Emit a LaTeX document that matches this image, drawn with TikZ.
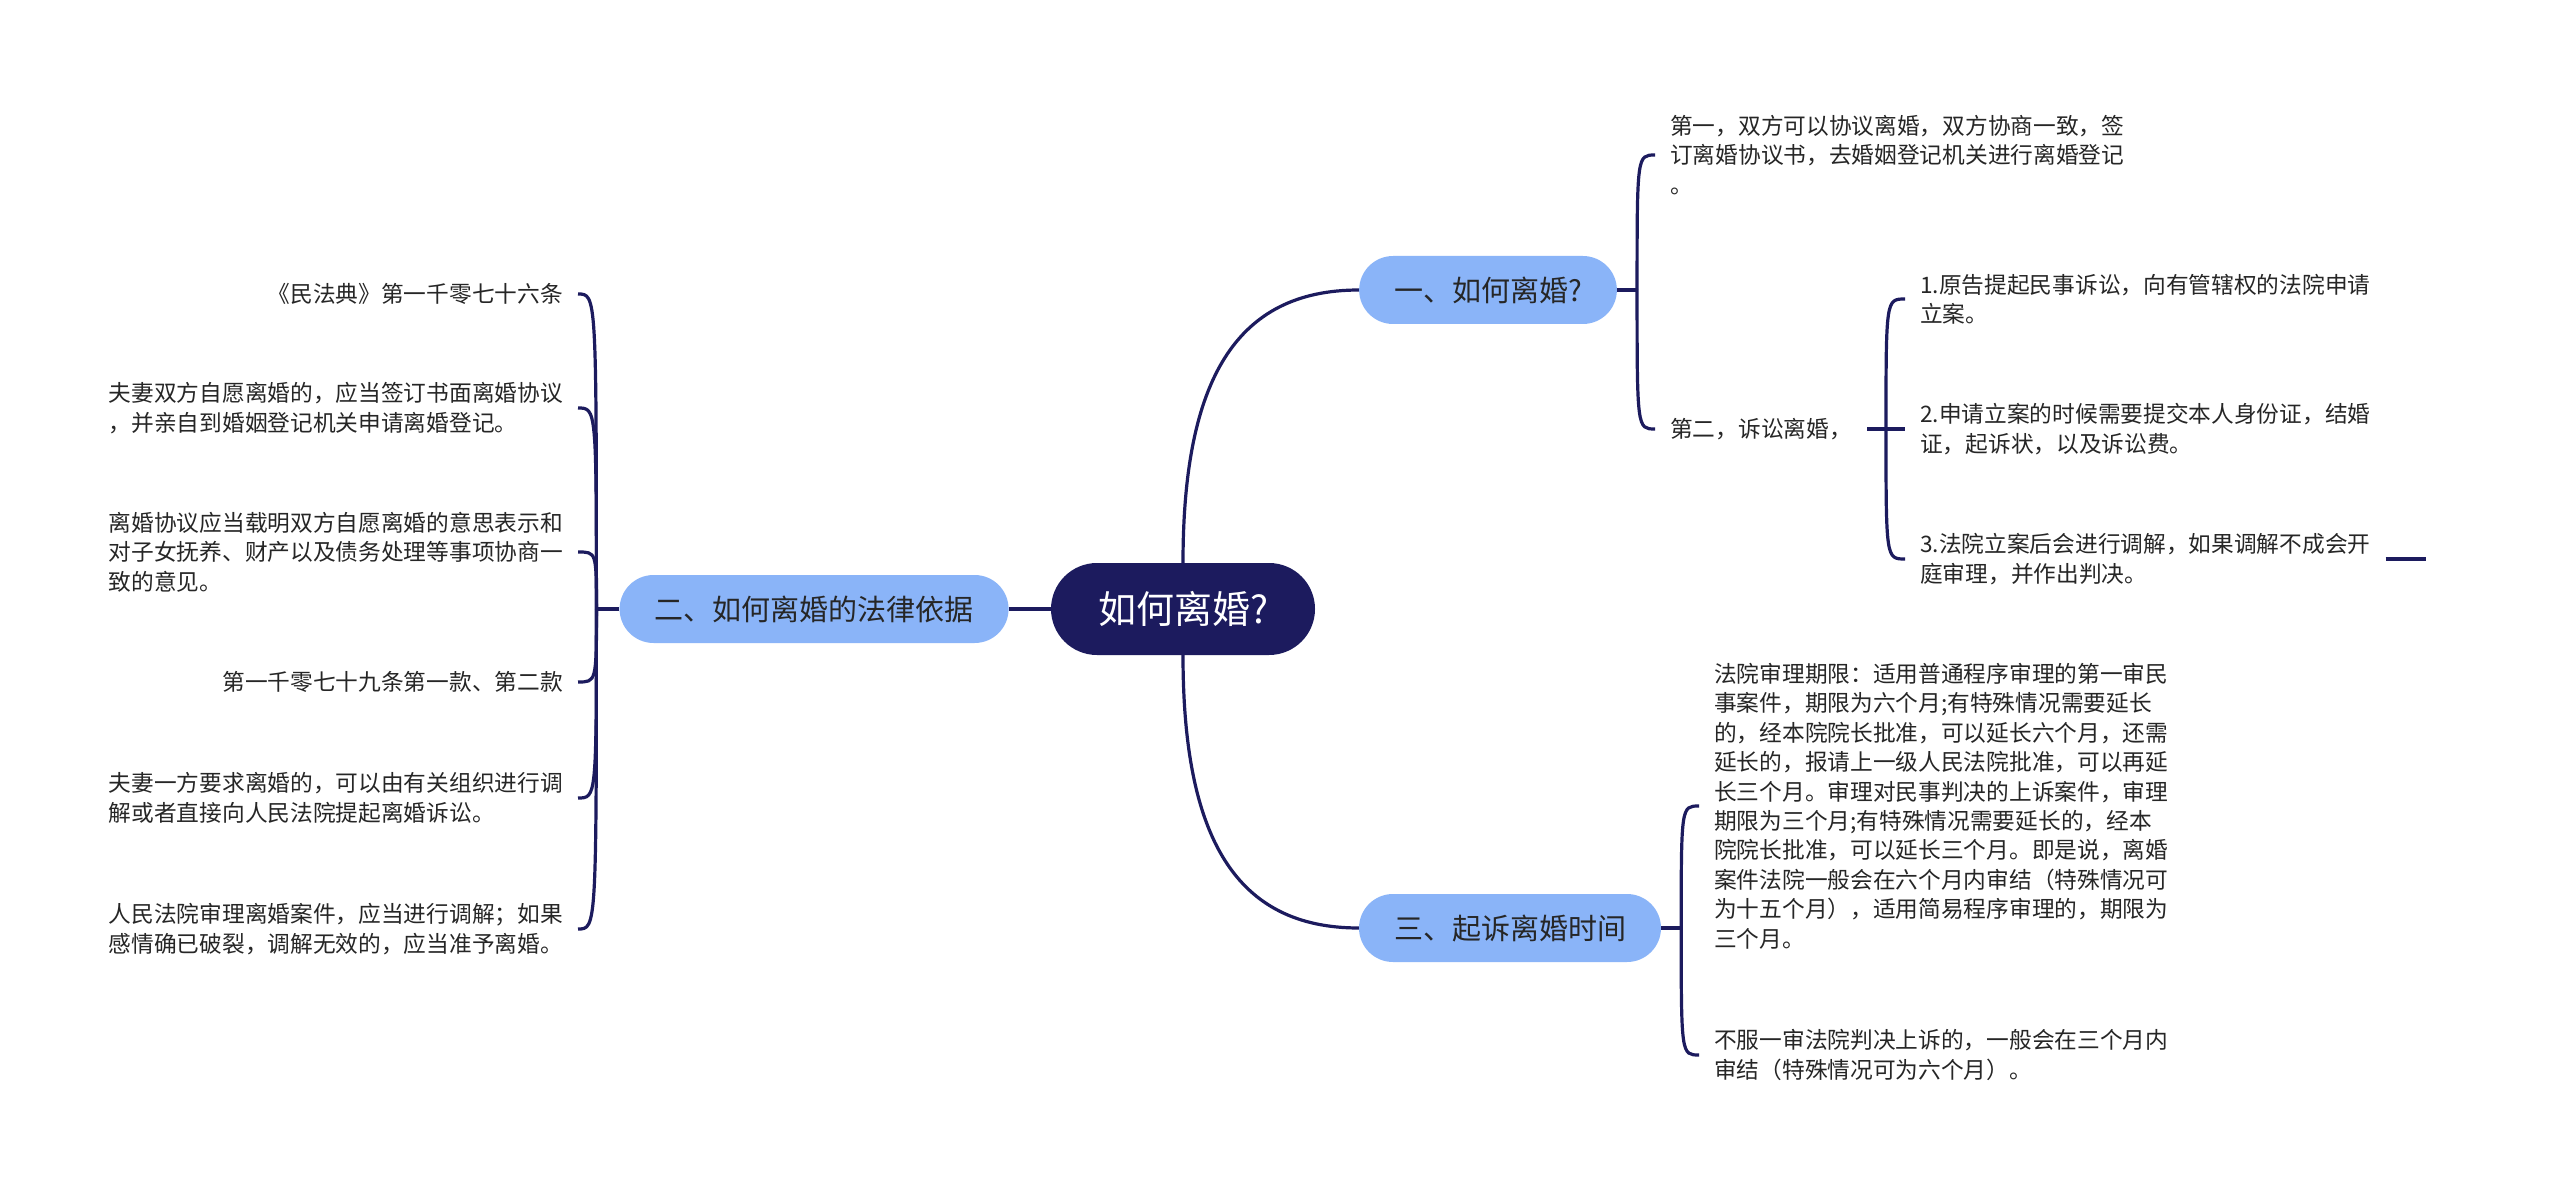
\documentclass[tikz,border=0pt]{standalone}
\usepackage{fontspec}
\setmainfont{Noto Sans CJK SC}
\usepackage{xcolor}
\usepackage{tikz}
\usetikzlibrary{positioning}
\definecolor{mapNavy}{HTML}{1C1B5E}
\definecolor{topicBlue}{HTML}{8AB4F8}
\definecolor{leafGray}{HTML}{262626}

\begin{document}
\begin{tikzpicture}[x=1pt,y=-1pt,
    root/.style={fill=mapNavy,text=white,rounded corners=46pt,minimum height=92pt,
        inner xsep=47pt,inner ysep=0pt,font=\fontsize{38}{46}\selectfont},
    topic/.style={fill=topicBlue,text=black!85,rounded corners=34pt,minimum height=68pt,
        inner xsep=35pt,inner ysep=0pt,font=\fontsize{29}{35}\selectfont},
    leaf/.style={text=leafGray,align=left,inner xsep=15pt,inner ysep=0pt,
        font=\fontsize{22.7}{29.4}\selectfont},
    link/.style={draw=mapNavy,line width=3.2pt}]
    \fill[white] (0,0) rectangle (2560,1190);
    \useasboundingbox (0,0) rectangle (2560,1190);
    % main topics
    \node[root] (root) at (1183,609) {如何离婚?};
    \node[topic] (how) at (1488,290) {一、如何离婚?};
    \node[topic,left=42pt of root] (law) {二、如何离婚的法律依据};
    \node[topic] (time) at (1510,928) {三、起诉离婚时间};
    \draw[link] (root.west)--(law.east);
    \draw[link] (root.north) .. controls +(0,-183) and +(-123,0) .. (how.west);
    \draw[link] (root.south) .. controls +(0,183) and +(-123,0) .. (time.west);
    % left branch
    \node[leaf,anchor=east] (code) at (578,294) {《民法典》第一千零七十六条};
    \node[leaf,anchor=east] (deal) at (578,408) {夫妻双方自愿离婚的，应当签订书面离婚协议\\，并亲自到婚姻登记机关申请离婚登记。};
    \node[leaf,anchor=east] (terms) at (578,552) {离婚协议应当载明双方自愿离婚的意思表示和\\对子女抚养、财产以及债务处理等事项协商一\\致的意见。};
    \node[leaf,anchor=east] (article) at (578,682) {第一千零七十九条第一款、第二款};
    \node[leaf,anchor=east] (request) at (578,798) {夫妻一方要求离婚的，可以由有关组织进行调\\解或者直接向人民法院提起离婚诉讼。};
    \node[leaf,anchor=east] (court) at (578,929) {人民法院审理离婚案件，应当进行调解；如果\\感情确已破裂，调解无效的，应当准予离婚。};
    \coordinate[left=23pt of law.west] (lawJ);
    \draw[link] (law.west)--(lawJ);
    \draw[link] (lawJ) .. controls (lawJ |- code.east) .. (code.east); \draw[link] (lawJ) .. controls (lawJ |- deal.east) .. (deal.east);
    \draw[link] (lawJ) .. controls (lawJ |- terms.east) .. (terms.east); \draw[link] (lawJ) .. controls (lawJ |- article.east) .. (article.east);
    \draw[link] (lawJ) .. controls (lawJ |- request.east) .. (request.east); \draw[link] (lawJ) .. controls (lawJ |- court.east) .. (court.east);
    % upper right branch
    \node[leaf,anchor=west] (agree) at (1655,155) {第一，双方可以协议离婚，双方协商一致，签\\订离婚协议书，去婚姻登记机关进行离婚登记\\。};
    \node[leaf,anchor=west] (suit) at (1655,429) {第二，诉讼离婚，};
    \coordinate[right=20pt of how.east] (howJ);
    \draw[link] (how.east)--(howJ);
    \draw[link] (howJ) .. controls (howJ |- agree.west) .. (agree.west); \draw[link] (howJ) .. controls (howJ |- suit.west) .. (suit.west);
    \node[leaf,anchor=west] (file) at (1905,299) {1.原告提起民事诉讼，向有管辖权的法院申请\\立案。};
    \node[leaf,anchor=west] (docs) at (1905,429) {2.申请立案的时候需要提交本人身份证，结婚\\证，起诉状，以及诉讼费。};
    \node[leaf,anchor=west] (mediate) at (1905,559) {3.法院立案后会进行调解，如果调解不成会开\\庭审理，并作出判决。};
    \coordinate[right=19pt of suit.east] (suitJ);
    \coordinate[right=40pt of mediate.east] (mediateTip);
    \draw[link] (suit.east)--(suitJ);
    \draw[link] (suitJ) .. controls (suitJ |- file.west) .. (file.west); \draw[link] (suitJ) .. controls (suitJ |- docs.west) .. (docs.west);
    \draw[link] (suitJ) .. controls (suitJ |- mediate.west) .. (mediate.west); \draw[link] (mediate.east)--(mediateTip);
    % lower right branch
    \node[leaf,anchor=west] (period) at (1699,806) {法院审理期限：适用普通程序审理的第一审民\\事案件，期限为六个月;有特殊情况需要延长\\的，经本院院长批准，可以延长六个月，还需\\延长的，报请上一级人民法院批准，可以再延\\长三个月。审理对民事判决的上诉案件，审理\\期限为三个月;有特殊情况需要延长的，经本\\院院长批准，可以延长三个月。即是说，离婚\\案件法院一般会在六个月内审结（特殊情况可\\为十五个月），适用简易程序审理的，期限为\\三个月。};
    \node[leaf,anchor=west] (appeal) at (1699,1055) {不服一审法院判决上诉的，一般会在三个月内\\审结（特殊情况可为六个月）。};
    \coordinate[right=20pt of time.east] (timeJ);
    \draw[link] (time.east)--(timeJ);
    \draw[link] (timeJ) .. controls (timeJ |- period.west) .. (period.west); \draw[link] (timeJ) .. controls (timeJ |- appeal.west) .. (appeal.west);
\end{tikzpicture}
\end{document}
